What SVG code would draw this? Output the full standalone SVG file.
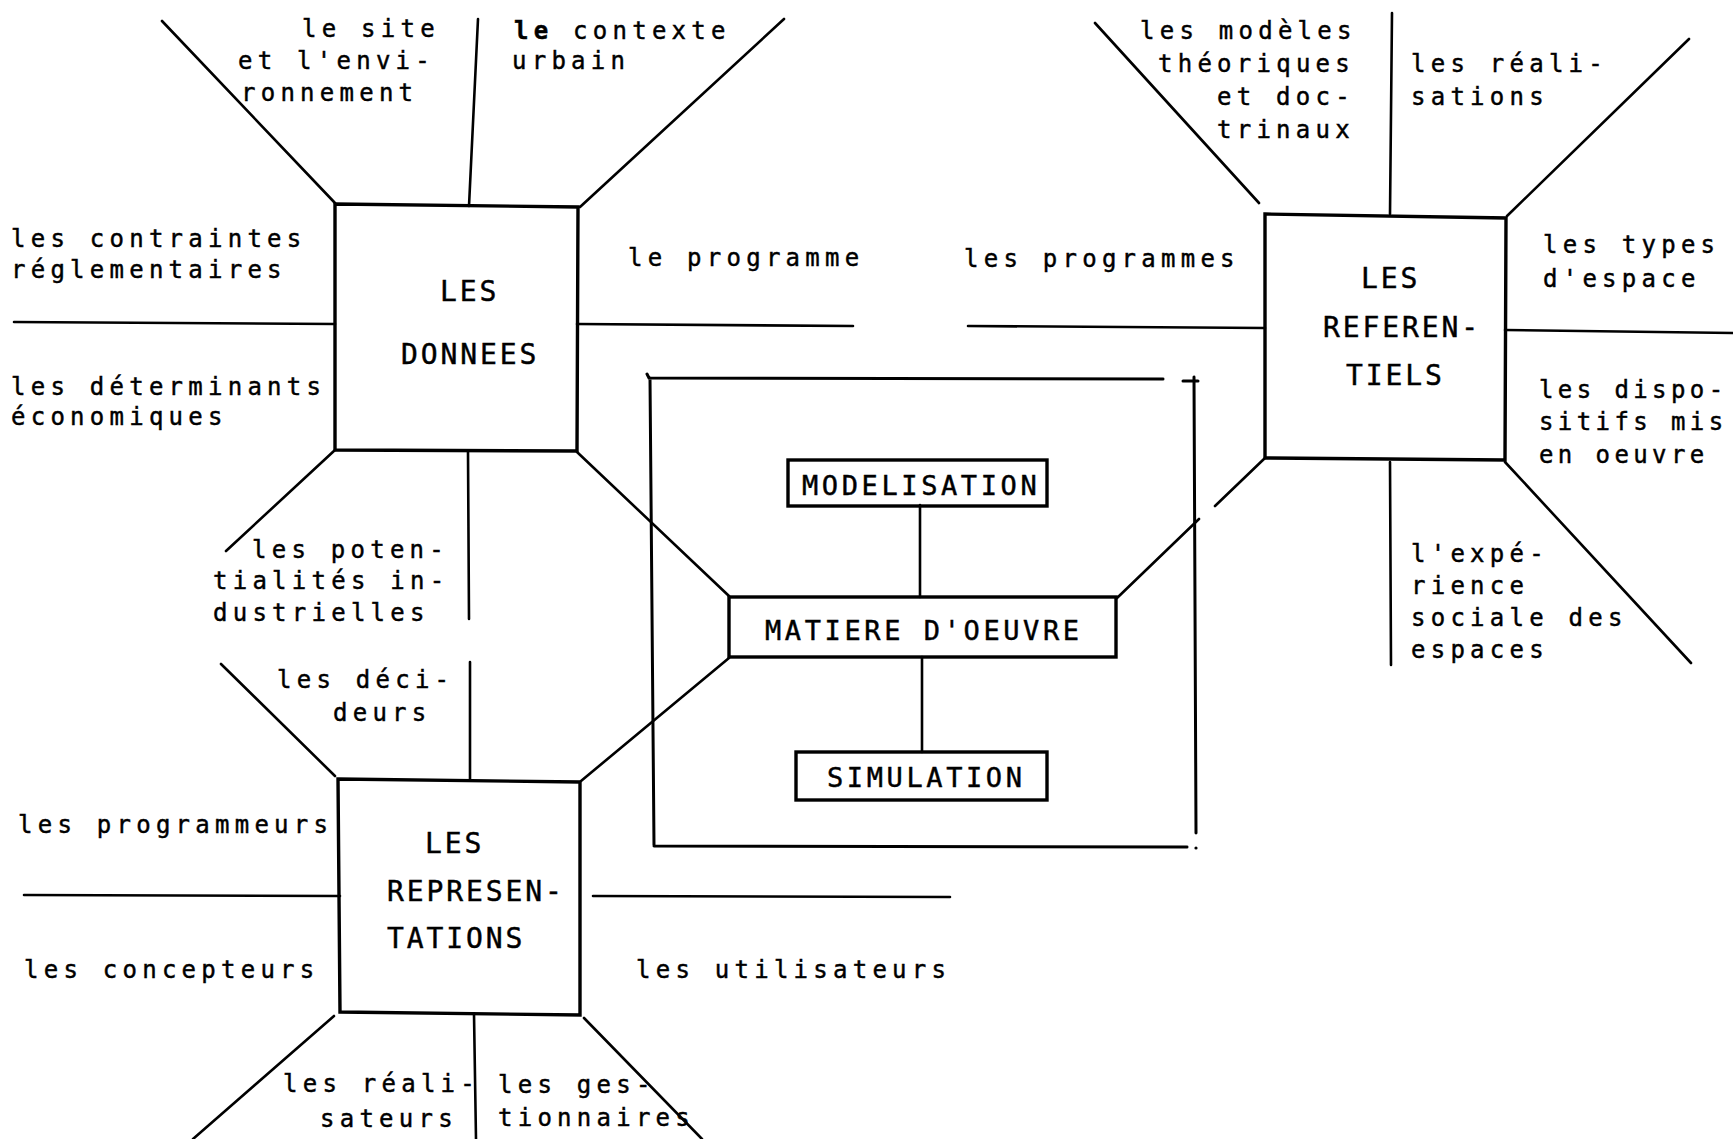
<svg xmlns="http://www.w3.org/2000/svg" width="1733" height="1139" viewBox="0 0 1733 1139">
<style>
text{font-family:"DejaVu Sans Mono","Liberation Mono",monospace;fill:#000;stroke:#000;stroke-width:0.45}
.l{font-size:24px;letter-spacing:5.25px}
.n{letter-spacing:4.4px}
.c{font-size:28px;letter-spacing:2.9px}
.c2{font-size:27px;letter-spacing:3.6px}
.box{fill:none;stroke:#000;stroke-width:3.4;stroke-linejoin:miter}
.ln{fill:none;stroke:#000;stroke-width:2.6;stroke-linecap:round}
.fr{fill:none;stroke:#000;stroke-width:3;stroke-linecap:round}
</style>
<rect width="1733" height="1139" fill="#fff"/>
<g id="connectors">
<path class="ln" d="M335,203L162,21M469,206L478,19M580,207L784,19M14,322L335,324M577,324L853,326M335,450L226,551M468,452L469,619M577,452L729,596"/>
<path class="ln" d="M1259,203L1095,23M1390,214L1392,13M1507,216L1689,39M968,326L1265,328M1505,330L1733,333M1265,458L1215,506M1390,462L1391,665M1505,462L1691,663M1117,598L1199,519"/>
<path class="ln" d="M335,776L221,664M470,779L470,662M581,781L729,658M24,895L340,896M593,896L950,897M334,1016L193,1139M474,1014L476,1139M584,1018L702,1139"/>
<path class="ln" d="M920,505L920,597M922,657L922,752"/>
</g>
<g id="frame">
<path class="fr" d="M647,374L649,378L1163,379M650,378L654,845M654,846L1187,847M1194,377L1196,833M1183,381L1198,381"/>
<circle cx="1196" cy="848" r="1.6" fill="#000"/>
</g>
<g id="donnees">
<polygon class="box" points="335,204 578,207 577,451 335,450"/>
<text class="c" x="440" y="301">LES</text>
<text class="c" x="401" y="364">DONNEES</text>
</g>
<g id="donnees-labels">
<text class="l" x="302" y="37">le site</text>
<text class="l" x="238" y="69">et l'envi-</text>
<text class="l" x="241" y="101">ronnement</text>
<text class="l" x="514" y="39"><tspan font-weight="bold">le</tspan> contexte</text>
<text class="l" x="512" y="69">urbain</text>
<text class="l" x="11" y="247">les contraintes</text>
<text class="l" x="11" y="278">réglementaires</text>
<text class="l" x="11" y="395">les déterminants</text>
<text class="l" x="11" y="425">économiques</text>
<text class="l" x="628" y="266">le programme</text>
<text class="l" x="252" y="558">les poten-</text>
<text class="l" x="213" y="589">tialités in-</text>
<text class="l" x="213" y="621">dustrielles</text>
</g>
<g id="referentiels">
<polygon class="box" points="1265,214 1506,218 1505,460 1265,458"/>
<text class="c" x="1361" y="288">LES</text>
<text class="c" x="1323" y="337">REFEREN-</text>
<text class="c" x="1346" y="385">TIELS</text>
</g>
<g id="referentiels-labels">
<text class="l" x="1140" y="39">les modèles</text>
<text class="l" x="1158" y="72">théoriques</text>
<text class="l" x="1217" y="105">et doc-</text>
<text class="l" x="1217" y="138">trinaux</text>
<text class="l" x="1411" y="72">les réali-</text>
<text class="l" x="1411" y="105">sations</text>
<text class="l" x="964" y="267">les programmes</text>
<text class="l" x="1543" y="253">les types</text>
<text class="l" x="1543" y="287">d'espace</text>
<text class="l n" x="1539" y="398">les dispo-</text>
<text class="l n" x="1539" y="430">sitifs mis</text>
<text class="l n" x="1539" y="463">en oeuvre</text>
<text class="l" x="1411" y="562">l'expé-</text>
<text class="l" x="1411" y="594">rience</text>
<text class="l" x="1411" y="626">sociale des</text>
<text class="l" x="1411" y="658">espaces</text>
</g>
<g id="representations">
<polygon class="box" points="338,779 580,782 580,1015 340,1012"/>
<text class="c" x="425" y="853">LES</text>
<text class="c" x="387" y="901">REPRESEN-</text>
<text class="c" x="387" y="948">TATIONS</text>
</g>
<g id="representations-labels">
<text class="l" x="277" y="688">les déci-</text>
<text class="l" x="333" y="721">deurs</text>
<text class="l" x="18" y="833">les programmeurs</text>
<text class="l" x="24" y="978">les concepteurs</text>
<text class="l" x="636" y="978">les utilisateurs</text>
<text class="l" x="283" y="1092">les réali-</text>
<text class="l" x="320" y="1127">sateurs</text>
<text class="l" x="498" y="1093">les ges-</text>
<text class="l" x="498" y="1126">tionnaires</text>
</g>
<g id="modelisation">
<rect class="box" x="788" y="460" width="259" height="46"/>
<text class="c2" x="802" y="495">MODELISATION</text>
</g>
<g id="matiere">
<rect class="box" x="729" y="597" width="387" height="60"/>
<text class="c2" x="765" y="640">MATIERE D'OEUVRE</text>
</g>
<g id="simulation">
<rect class="box" x="796" y="752" width="251" height="48"/>
<text class="c2" x="827" y="787">SIMULATION</text>
</g>
</svg>
